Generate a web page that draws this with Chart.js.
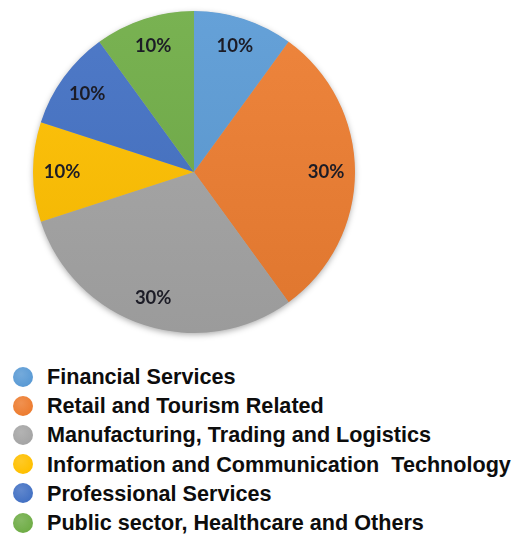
<!DOCTYPE html>
<html>
<head>
<meta charset="utf-8">
<script src="https://cdn.jsdelivr.net/npm/chart.js@4.4.1/dist/chart.umd.min.js"></script>
<style>
    html, body { margin: 0; padding: 0; background: #fff; }
    #wrap { position: relative; width: 517px; height: 536px; overflow: hidden; }
    #pieBox { position: absolute; left: 0; top: 0; width: 517px; height: 345px; }
    #legend {
        position: absolute; left: 0; top: 362px; margin: 0; padding: 0; list-style: none;
        font-family: "Liberation Sans", Arial, sans-serif; font-weight: bold; font-size: 21.6px;
        color: #0d0d0d;
    }
    #legend li { position: relative; height: 29.2px; line-height: 29.2px; padding-left: 47px; white-space: pre; }
    #legend li span {
        position: absolute; left: 13px; top: 4.6px; width: 20px; height: 20px; border-radius: 50%;
        filter: blur(0.4px);
    }
</style>
</head>
<body>
<div id="wrap">
    <div id="pieBox"><canvas id="sectors"></canvas></div>
    <ul id="legend"></ul>
</div>
<script>
    const SECTORS = [
        'Financial Services',
        'Retail and Tourism Related',
        'Manufacturing, Trading and Logistics',
        'Information and Communication  Technology',
        'Professional Services',
        'Public sector, Healthcare and Others'
    ];

    const SHARES = [10, 30, 30, 10, 10, 10];

    const COLORS = ['#5B9BD5', '#ED7D31', '#A5A5A5', '#FFC000', '#4472C4', '#70AD47'];

    // soft drop shadow under the whole pie
    const pieShadow = {
        id: 'pieShadow',
        beforeDatasetsDraw(chart) {
            const arc = chart.getDatasetMeta(0).data[0];
            if (!arc) return;
            const { x, y, outerRadius } = arc.getProps(['x', 'y', 'outerRadius'], true);
            const ctx = chart.ctx;
            ctx.save();
            ctx.shadowColor = 'rgba(0, 0, 0, 0.35)';
            ctx.shadowBlur = 6;
            ctx.shadowOffsetY = 2;
            ctx.fillStyle = '#aaa';
            ctx.beginPath();
            ctx.arc(x, y, outerRadius - 0.5, 0, Math.PI * 2);
            ctx.fill();
            ctx.restore();
        }
    };

    // percentage text inside each slice
    const sliceLabels = {
        id: 'sliceLabels',
        afterDatasetsDraw(chart) {
            const ctx = chart.ctx;
            const values = chart.data.datasets[0].data;
            ctx.save();
            ctx.font = 'bold 18.5px Lato, "Open Sans", sans-serif';
            ctx.fillStyle = '#1c1c26';
            ctx.textAlign = 'center';
            ctx.textBaseline = 'middle';
            chart.getDatasetMeta(0).data.forEach((arc, i) => {
                const p = arc.getProps(['x', 'y', 'startAngle', 'endAngle', 'outerRadius'], true);
                const mid = (p.startAngle + p.endAngle) / 2;
                const r = p.outerRadius * 0.82;
                ctx.fillText(values[i] + '%', p.x + Math.cos(mid) * r, p.y + Math.sin(mid) * r);
            });
            ctx.restore();
        }
    };

    // slightly lighter at the top, darker at the bottom
    function shade(context) {
        const chart = context.chart;
        const area = chart.chartArea;
        const base = COLORS[context.dataIndex];
        if (!area) return base;
        const g = chart.ctx.createLinearGradient(0, area.top, 0, area.bottom);
        g.addColorStop(0, lighten(base, 0.06));
        g.addColorStop(1, lighten(base, -0.06));
        return g;
    }

    function lighten(hex, amt) {
        const n = parseInt(hex.slice(1), 16);
        const ch = [(n >> 16) & 255, (n >> 8) & 255, n & 255].map(c => {
            const v = amt >= 0 ? c + (255 - c) * amt : c * (1 + amt);
            return Math.round(Math.max(0, Math.min(255, v)));
        });
        return `rgb(${ch[0]}, ${ch[1]}, ${ch[2]})`;
    }

    new Chart(document.getElementById('sectors'), {
        type: 'pie',
        data: {
            labels: SECTORS,
            datasets: [{
                data: SHARES,
                backgroundColor: shade,
                borderWidth: 0
            }]
        },
        options: {
            responsive: true,
            maintainAspectRatio: false,
            animation: false,
            layout: {
                padding: { left: 33, right: 162, top: 11, bottom: 12 }
            },
            plugins: {
                legend: { display: false },
                tooltip: { enabled: false }
            }
        },
        plugins: [pieShadow, sliceLabels]
    });

    const legend = document.getElementById('legend');
    SECTORS.forEach((name, i) => {
        const li = document.createElement('li');
        const dot = document.createElement('span');
        dot.style.background = `radial-gradient(circle at 40% 35%, ${lighten(COLORS[i], 0.15)}, ${COLORS[i]} 70%, ${lighten(COLORS[i], -0.1)})`;
        li.appendChild(dot);
        li.appendChild(document.createTextNode(name));
        legend.appendChild(li);
    });
</script>
</body>
</html>
